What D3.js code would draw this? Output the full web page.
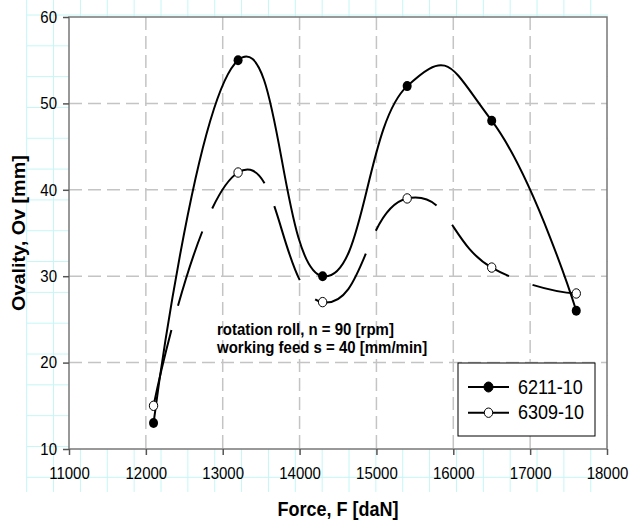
<!DOCTYPE html>
<html>
<head>
<meta charset="utf-8">
<script src="https://cdn.jsdelivr.net/npm/d3@7"></script>
<style>
  body { margin: 0; background: #fff; }
  svg { display: block; font-family: "Liberation Sans", Arial, sans-serif; }
</style>
</head>
<body>
<svg id="chart" width="631" height="524"></svg>
<script>
// data
var forces = [12100, 13200, 14300, 15400, 16500, 17600];
var ov6211 = [13, 55, 30, 52, 48, 26];
var ov6309 = [15, 42, 27, 39, 31, 28];
var seriesNames = ["6211-10", "6309-10"];
var xTicks = [11000, 12000, 13000, 14000, 15000, 16000, 17000, 18000];
var yTicks = [10, 20, 30, 40, 50, 60];
var noteLines = ["rotation roll, n = 90 [rpm]", "working feed s = 40 [mm/min]"];

var S = 1.1; // the source picture is a bit stretched vertically

var svg = d3.select("#chart"),
    margin = {top: 17, left: 69},
    width = 538,
    height = 432;

// light cyan sheet grid behind the chart
var sheet = svg.append("g").attr("stroke", "#c6f6f6").attr("stroke-width", 1);
d3.range(26.7, 600, 26.86).forEach(function(gx) {
  sheet.append("line").attr("x1", gx).attr("x2", gx).attr("y1", 0).attr("y2", 492);
});
d3.range(15, 480, 30.82).forEach(function(gy) {
  sheet.append("line").attr("x1", 26.7).attr("x2", 608).attr("y1", gy).attr("y2", gy);
});

var g = svg.append("g").attr("transform", "translate(" + margin.left + "," + margin.top + ")");

var x = d3.scaleLinear().domain([11000, 18000]).range([0, width]);
var y = d3.scaleLinear().domain([10, 60]).range([height, 0]);

g.append("rect")
  .attr("width", width).attr("height", height)
  .attr("fill", "#fff");

// dashed grid
var grid = g.append("g")
  .attr("stroke", "#c4c4c4")
  .attr("stroke-width", 1.5)
  .attr("stroke-dasharray", "13,6");
grid.selectAll(".vx").data(xTicks.slice(1, -1)).enter().append("line")
  .attr("x1", function(d) { return x(d); }).attr("x2", function(d) { return x(d); })
  .attr("y1", 0).attr("y2", height);
grid.selectAll(".hy").data(yTicks.slice(1, -1)).enter().append("line")
  .attr("y1", function(d) { return y(d); }).attr("y2", function(d) { return y(d); })
  .attr("x1", 0).attr("x2", width);

g.append("rect")
  .attr("width", width).attr("height", height)
  .attr("fill", "none")
  .attr("stroke", "#777")
  .attr("stroke-width", 1.5);

// axes
var xAxis = g.append("g")
  .attr("transform", "translate(0," + height + ")")
  .call(d3.axisBottom(x).tickValues(xTicks).tickFormat(d3.format("d")).tickSize(6).tickPadding(12));
var yAxis = g.append("g")
  .call(d3.axisLeft(y).tickValues(yTicks).tickSize(6).tickPadding(6));

[xAxis, yAxis].forEach(function(ax) {
  ax.select(".domain").remove();
  ax.selectAll("line").attr("stroke", "#555").attr("stroke-width", 1.5);
  ax.selectAll("text")
    .attr("font-size", 15)
    .attr("fill", "#000")
    .style("font-family", "Liberation Sans, Arial, sans-serif");
});
xAxis.selectAll("text").each(function() {
  var t = d3.select(this);
  var ty = +t.attr("y");
  t.attr("y", 0).attr("transform", "translate(0," + ty + ") scale(1," + S + ")");
});
yAxis.selectAll("text").each(function() {
  var t = d3.select(this);
  var tx = +t.attr("x");
  t.attr("x", 0).attr("transform", "translate(" + tx + ",0) scale(1," + S + ")");
});

// axis titles
svg.append("text")
  .attr("transform", "translate(" + (margin.left + width / 2) + ",516) scale(1," + S + ")")
  .attr("text-anchor", "middle")
  .attr("font-size", 18)
  .attr("font-weight", "bold")
  .text("Force, F [daN]");
svg.append("text")
  .attr("transform", "translate(25," + (margin.top + height / 2) + ") rotate(-90) scale(" + S + ",1)")
  .attr("text-anchor", "middle")
  .attr("font-size", 18)
  .attr("font-weight", "bold")
  .text("Ovality, Ov [mm]");

// series
var line = d3.line()
  .x(function(d) { return x(d[0]); })
  .y(function(d) { return y(d[1]); })
  .curve(d3.curveCardinal.tension(-0.5));

var s1 = d3.zip(forces, ov6211),
    s2 = d3.zip(forces, ov6309);

g.append("path")
  .datum(s1)
  .attr("d", line)
  .attr("fill", "none")
  .attr("stroke", "#000")
  .attr("stroke-width", 2);
g.append("path")
  .datum(s2)
  .attr("d", line)
  .attr("fill", "none")
  .attr("stroke", "#000")
  .attr("stroke-width", 2)
  .attr("stroke-dasharray", "78,25");

g.selectAll(".m1").data(s1).enter().append("ellipse")
  .attr("cx", function(d) { return x(d[0]); })
  .attr("cy", function(d) { return y(d[1]); })
  .attr("rx", 4.5).attr("ry", 5)
  .attr("fill", "#000");
g.selectAll(".m2").data(s2).enter().append("ellipse")
  .attr("cx", function(d) { return x(d[0]); })
  .attr("cy", function(d) { return y(d[1]); })
  .attr("rx", 4.2).attr("ry", 4.7)
  .attr("fill", "#fff")
  .attr("stroke", "#000")
  .attr("stroke-width", 1);

// note
noteLines.forEach(function(txt, i) {
  svg.append("text")
    .attr("transform", "translate(217," + (335 + i * 18.3) + ") scale(1," + S + ")")
    .attr("font-size", 15)
    .attr("font-weight", "bold")
    .text(txt);
});

// legend
var legend = svg.append("g").attr("transform", "translate(458,363)");
legend.append("rect")
  .attr("width", 137).attr("height", 73)
  .attr("fill", "#fff")
  .attr("stroke", "#000")
  .attr("stroke-width", 1);
seriesNames.forEach(function(name, i) {
  var ly = 24 + i * 25.7;
  legend.append("line")
    .attr("x1", 10).attr("x2", 51).attr("y1", ly).attr("y2", ly)
    .attr("stroke", "#000").attr("stroke-width", 2);
  legend.append("ellipse")
    .attr("cx", 30.5).attr("cy", ly)
    .attr("rx", i ? 4.2 : 4.5).attr("ry", i ? 4.7 : 5)
    .attr("fill", i ? "#fff" : "#000")
    .attr("stroke", "#000").attr("stroke-width", 1);
  legend.append("text")
    .attr("transform", "translate(60," + (ly + 6.5) + ") scale(1," + S + ")")
    .attr("font-size", 18)
    .text(name);
});
</script>
</body>
</html>
